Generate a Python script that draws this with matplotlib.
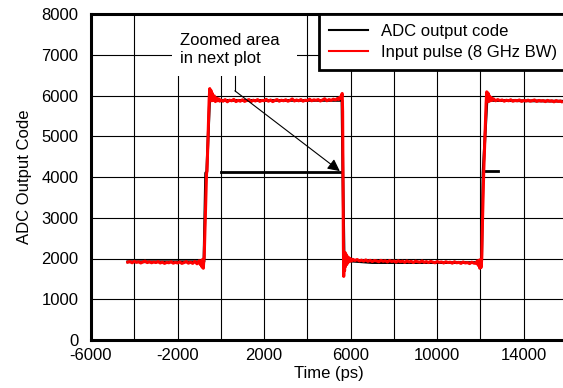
import matplotlib
matplotlib.use("Agg")
import numpy as np
import matplotlib.pyplot as plt
from matplotlib.patches import Rectangle
from matplotlib.lines import Line2D

plt.rcParams["font.family"] = ["Liberation Sans", "DejaVu Sans"]
plt.rcParams["font.size"] = 12

# Input pulse (8 GHz BW) trace, time in ps and ADC code
pulse_time = [
    -4300, -4200, -4100, -4000, -3900, -3800, -3700, -3600, -3500, -3400,
    -3300, -3200, -3100, -3000, -2900, -2800, -2700, -2600, -2500, -2400,
    -2300, -2200, -2100, -2000, -1900, -1800, -1700, -1600, -1500, -1400,
    -1300, -1200, -1100, -1000, -950, -900, -870, -840, -810, -780,
    -770, -700, -660, -640, -600, -540, -510, -480, -450, -420,
    -390, -350, -300, -250, -200, -150, -100, -50,
    0, 100, 200, 300, 400, 500, 600, 700, 800, 900,
    1000, 1100, 1200, 1300, 1400, 1500, 1600, 1700, 1800, 1900,
    2000, 2100, 2200, 2300, 2400, 2500, 2600, 2700, 2800, 2900,
    3000, 3100, 3200, 3300, 3400, 3500, 3600, 3700, 3800, 3900,
    4000, 4100, 4200, 4300, 4400, 4500, 4600, 4700, 4800, 4900,
    5000, 5100, 5200, 5300, 5400, 5450, 5500, 5550, 5590, 5610,
    5630, 5645, 5665, 5680, 5700, 5720, 5740, 5760, 5790, 5820,
    5850, 5880, 5920, 5960, 6000, 6050, 6100, 6200, 6300, 6400,
    6500, 6600, 6700, 6800, 6900, 7000, 7100, 7200, 7300, 7400,
    7500, 7600, 7700, 7800, 7900, 8000, 8100, 8200, 8300, 8400,
    8500, 8600, 8700, 8800, 8900, 9000, 9100, 9200, 9300, 9400,
    9500, 9600, 9700, 9800, 9900, 10000, 10100, 10200, 10300, 10400,
    10500, 10600, 10700, 10800, 10900, 11000, 11100, 11200, 11300, 11400,
    11500, 11600, 11700, 11800, 11850, 11900, 11940, 11970, 12000, 12030,
    12060, 12080, 12120, 12150, 12200, 12260, 12290, 12320, 12350, 12380,
    12420, 12460, 12500, 12550, 12600, 12700, 12800, 12900, 13000, 13100,
    13200, 13300, 13400, 13500, 13600, 13700, 13800, 13900, 14000, 14100,
    14200, 14300, 14400, 14500, 14600, 14700, 14800, 14900, 15000, 15100,
    15200, 15300, 15400, 15500, 15600, 15700, 15750,
]
pulse_code = [
    1910, 1925, 1895, 1930, 1905, 1920, 1890, 1915, 1935, 1900,
    1920, 1895, 1915, 1900, 1925, 1890, 1910, 1880, 1905, 1895,
    1920, 1885, 1905, 1890, 1915, 1880, 1900, 1925, 1885, 1910,
    1880, 1930, 1870, 1945, 1850, 1950, 1790, 1980, 1760, 1990,
    2000, 3300, 4080, 4150, 4800, 5900, 6170, 5950, 6120, 5870,
    6050, 5880, 5990, 5850, 5940, 5870, 5920, 5860,
    5890, 5860, 5900, 5845, 5885, 5870, 5905, 5850, 5880, 5860,
    5895, 5855, 5880, 5900, 5850, 5885, 5865, 5900, 5855, 5880,
    5870, 5905, 5860, 5890, 5850, 5880, 5900, 5860, 5885, 5870,
    5895, 5860, 5880, 5915, 5865, 5890, 5870, 5900, 5860, 5885,
    5875, 5910, 5870, 5895, 5880, 5900, 5865, 5890, 5920, 5870,
    5900, 5880, 5910, 5890, 5930, 5900, 5960, 5940, 6020, 6050,
    5600, 4100, 2300, 1560, 2050, 1700, 2150, 1800, 2100, 1850,
    2050, 1900, 2020, 1930, 1990, 1940, 1980, 1950, 1975, 1940,
    1960, 1935, 1965, 1930, 1955, 1925, 1950, 1940, 1920, 1955,
    1930, 1945, 1915, 1950, 1925, 1940, 1910, 1945, 1920, 1935,
    1905, 1940, 1915, 1930, 1900, 1935, 1920, 1910, 1940, 1905,
    1925, 1900, 1930, 1910, 1895, 1925, 1905, 1915, 1890, 1920,
    1900, 1910, 1885, 1920, 1895, 1905, 1880, 1915, 1890, 1900,
    1875, 1910, 1885, 1880, 1940, 1830, 1960, 1760, 1970, 1780,
    2000, 2600, 3500, 4100, 4900, 5800, 6090, 5900, 6060, 5850,
    5990, 5870, 5950, 5880, 5920, 5870, 5900, 5875, 5890, 5860,
    5885, 5870, 5895, 5860, 5880, 5870, 5890, 5855, 5880, 5865,
    5885, 5860, 5875, 5890, 5855, 5880, 5865, 5875, 5850, 5880,
    5860, 5870, 5845, 5875, 5855, 5865, 5850,
]

# ADC output code (mostly hidden under the input pulse)
adc_time = [-4300, -780, -700, -650, -520, 5600, 5640, 5700, 7000, 12050, 12120, 12300, 15750]
adc_code = [1920, 1920, 4100, 4130, 5880, 5880, 4100, 1950, 1900, 1900, 4100, 5880, 5860]

# ADC code segments around the 4100 level (zoomed area)
window_time = [0, 5580, np.nan, 12100, 12800]
window_code = [4120, 4120, np.nan, 4140, 4140]

x_ticks = [-6000, -4000, -2000, 0, 2000, 4000, 6000, 8000, 10000, 12000, 14000, 16000]
x_labels = ["-6000", "", "-2000", "", "2000", "", "6000", "", "10000", "", "14000", ""]
y_ticks = [0, 1000, 2000, 3000, 4000, 5000, 6000, 7000, 8000]

fig = plt.figure(figsize=(5.63, 3.88), dpi=100)
ax = fig.add_axes([91 / 563, 48 / 388, 476 / 563, 326 / 388])

ax.plot(adc_time, adc_code, color="black", lw=2, zorder=2)
ax.plot(window_time, window_code, color="black", lw=2, zorder=2)
ax.plot(pulse_time, pulse_code, color="red", lw=2.2, zorder=3)

ax.set_xlim(-6000, 16000)
ax.set_ylim(0, 8000)
ax.set_xticks(x_ticks)
ax.set_xticklabels(x_labels)
ax.set_yticks(y_ticks)
ax.tick_params(length=0)
ax.tick_params(axis="x", pad=6)
ax.tick_params(axis="y", pad=9)
ax.grid(True, color="black", lw=0.8)
ax.set_axisbelow(True)
for s in ax.spines.values():
    s.set_linewidth(2.2)

ax.set_xlabel("Time (ps)", labelpad=2)
ax.set_ylabel("ADC Output Code", labelpad=7)

# annotation with white background
ax.add_patch(Rectangle((-2250, 6480), 5750, 1480, facecolor="white",
                       edgecolor="none", zorder=1))
ax.text(-1900, 7130, "Zoomed area\nin next plot", ha="left", va="center",
        linespacing=1.25, zorder=4)
ax.plot([650, 650], [6480, 6115], color="black", lw=0.8, zorder=4)
ax.annotate("", xy=(5500, 4145), xytext=(650, 6115),
            arrowprops=dict(arrowstyle="-|>", color="black", lw=0.8,
                            mutation_scale=18, shrinkA=0, shrinkB=0),
            zorder=4)

handles = [Line2D([], [], color="black", lw=1.5),
           Line2D([], [], color="red", lw=1.5)]
leg = ax.legend(handles, ["ADC output code", "Input pulse (8 GHz BW)"],
                loc="upper right", bbox_to_anchor=(1.0, 1.0), borderaxespad=0,
                fancybox=False, framealpha=1, edgecolor="black",
                handlelength=2.3, handletextpad=0.8, labelspacing=0.35,
                borderpad=0.6)
leg.get_frame().set_linewidth(2)
leg.set_zorder(5)

fig.savefig("out.png", dpi=100)
